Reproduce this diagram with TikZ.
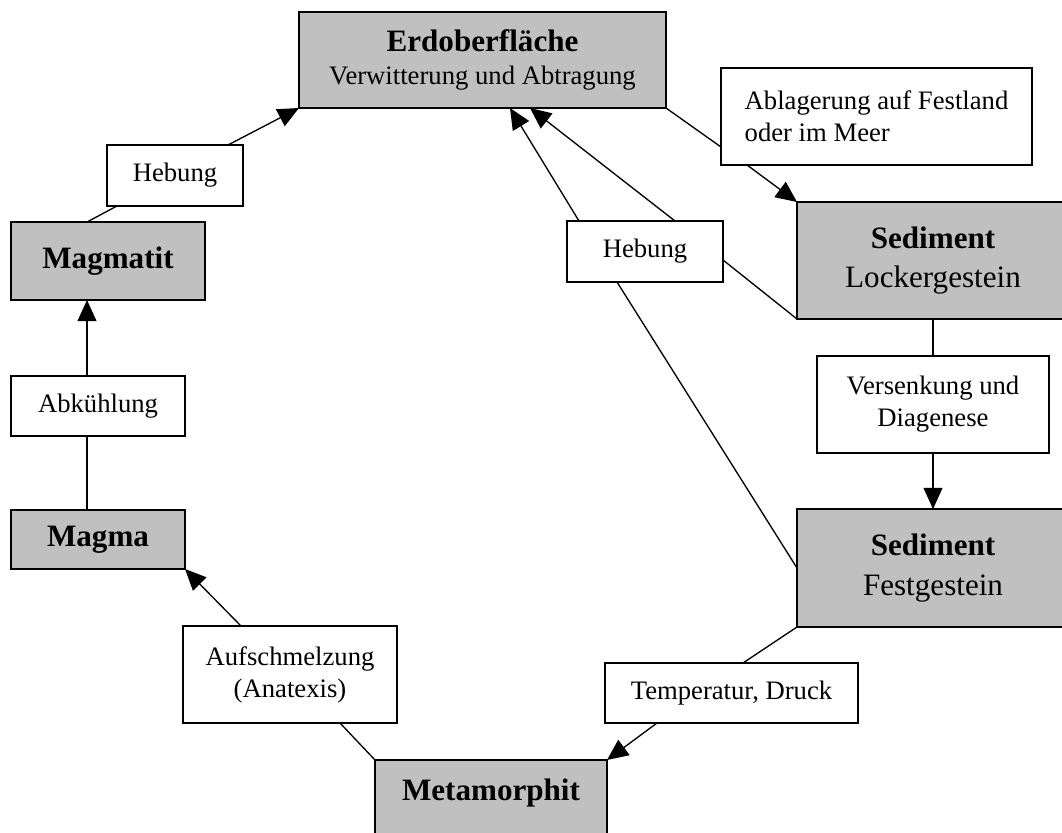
\documentclass[tikz,border=0pt]{standalone}
\usepackage{fontspec}
\setmainfont{Liberation Serif}
\usetikzlibrary{arrows.meta,calc}
\definecolor{steingrau}{RGB}{192,192,192}

\begin{document}
\begin{tikzpicture}[x=0.45pt,y=-0.45pt,
  gestein/.style={draw,line width=0.7pt,fill=steingrau,inner sep=0pt,outer sep=0pt,align=center,font=\fontsize{14}{17.5}\selectfont},
  vorgang/.style={draw,line width=0.7pt,fill=white,inner sep=0pt,outer sep=0pt,align=center,font=\fontsize{12}{14.4}\selectfont},
  linie/.style={line width=0.6pt},
  pfeil/.style={line width=0.6pt,-{Triangle[length=9.5pt,width=8.5pt]}}]
\useasboundingbox (0,0) rectangle (1062,832);

% Gesteine (grau)
\node (erde) at (482.5,60) [gestein,minimum width=165.15pt,minimum height=43.2pt] {\textbf{Erdoberfläche}\\[-3pt]{\fontsize{12}{14}\selectfont Verwitterung und Abtragung}};
\node (magmatit) at (108,261) [gestein,minimum width=87.3pt,minimum height=35.1pt] {\textbf{Magmatit}};
\node (locker) at (933,260.5) [gestein,minimum width=122.4pt,minimum height=52.65pt] {\textbf{Sediment}\\Lockergestein};
\node (magma) at (98,539.5) [gestein,minimum width=78.3pt,minimum height=26.55pt] {\textbf{Magma}};
\node (fest) at (933,568) [gestein,minimum width=122.4pt,minimum height=53.1pt] {\textbf{Sediment}\\[0.5pt]Festgestein};
\node (meta) at (491,760) [gestein,anchor=north,minimum width=104.4pt,text height=18pt,text depth=20pt] {\textbf{Metamorphit}}; % unten abgeschnitten

% Vorgaenge (weiss)
\node (heb1) at (175,175.5) [vorgang,minimum width=61.2pt,minimum height=27.45pt] {Hebung};
\node (ablag) at (876.5,116.5) [vorgang,align=left,minimum width=139.95pt,minimum height=43.65pt] {Ablagerung auf Festland\\oder im Meer};
\node (heb2) at (645,251.5) [vorgang,minimum width=70.2pt,minimum height=27.45pt] {Hebung};
\node (abk) at (98,406) [vorgang,minimum width=78.3pt,minimum height=27pt] {Abkühlung};
\node (vers) at (933,404.5) [vorgang,minimum width=104.4pt,minimum height=43.65pt] {Versenkung und\\Diagenese};
\node (aufs) at (290,674.5) [vorgang,minimum width=96.3pt,minimum height=43.65pt] {Aufschmelzung\\(Anatexis)};
\node (temp) at (731.5,693) [vorgang,minimum width=113.85pt,minimum height=27pt] {Temperatur, Druck};

% Kreislauf
\draw [linie] ($(magmatit.north)+(-21,0)$) -- ($(heb1.south west)+(10,0)$);
\draw [pfeil] ($(heb1.north east)+(-15,0)$) -- (erde.south west);
\draw [linie] ($(magma.north)+(-11,0)$) -- ($(abk.south)+(-11,0)$);
\draw [pfeil] ($(abk.north)+(-11,0)$) -- ($(magmatit.south)+(-21,0)$);
\draw [linie] (meta.north west) -- ($(aufs.south)+(50,0)$);
\draw [pfeil] ($(aufs.north)+(-49,0)$) -- (magma.south east);
\draw [linie] (fest.south west) -- ($(temp.north)+(11.5,0)$);
\draw [pfeil] ($(temp.south)+(-74.5,0)$) -- (meta.north east);
\draw [linie] (locker.south) -- (vers.north);
\draw [pfeil] (vers.south) -- (fest.north);
\draw [linie] (erde.south east) -- ($(ablag.west)+(0,30.5)$);
\draw [pfeil] ($(ablag.south west)+(26,0)$) -- (locker.north west);
\draw [linie] (locker.south west) -- ($(heb2.east)+(0,8.5)$); % zweimal Hebung
\draw [linie] (fest.west) -- ($(heb2.south west)+(50,0)$);
\draw [pfeil] ($(heb2.north west)+(12,0)$) -- ($(erde.south)+(27.5,0)$);
\draw [pfeil] ($(heb2.north east)+(-48,0)$) -- ($(erde.south)+(47.5,0)$);
\end{tikzpicture}
\end{document}
